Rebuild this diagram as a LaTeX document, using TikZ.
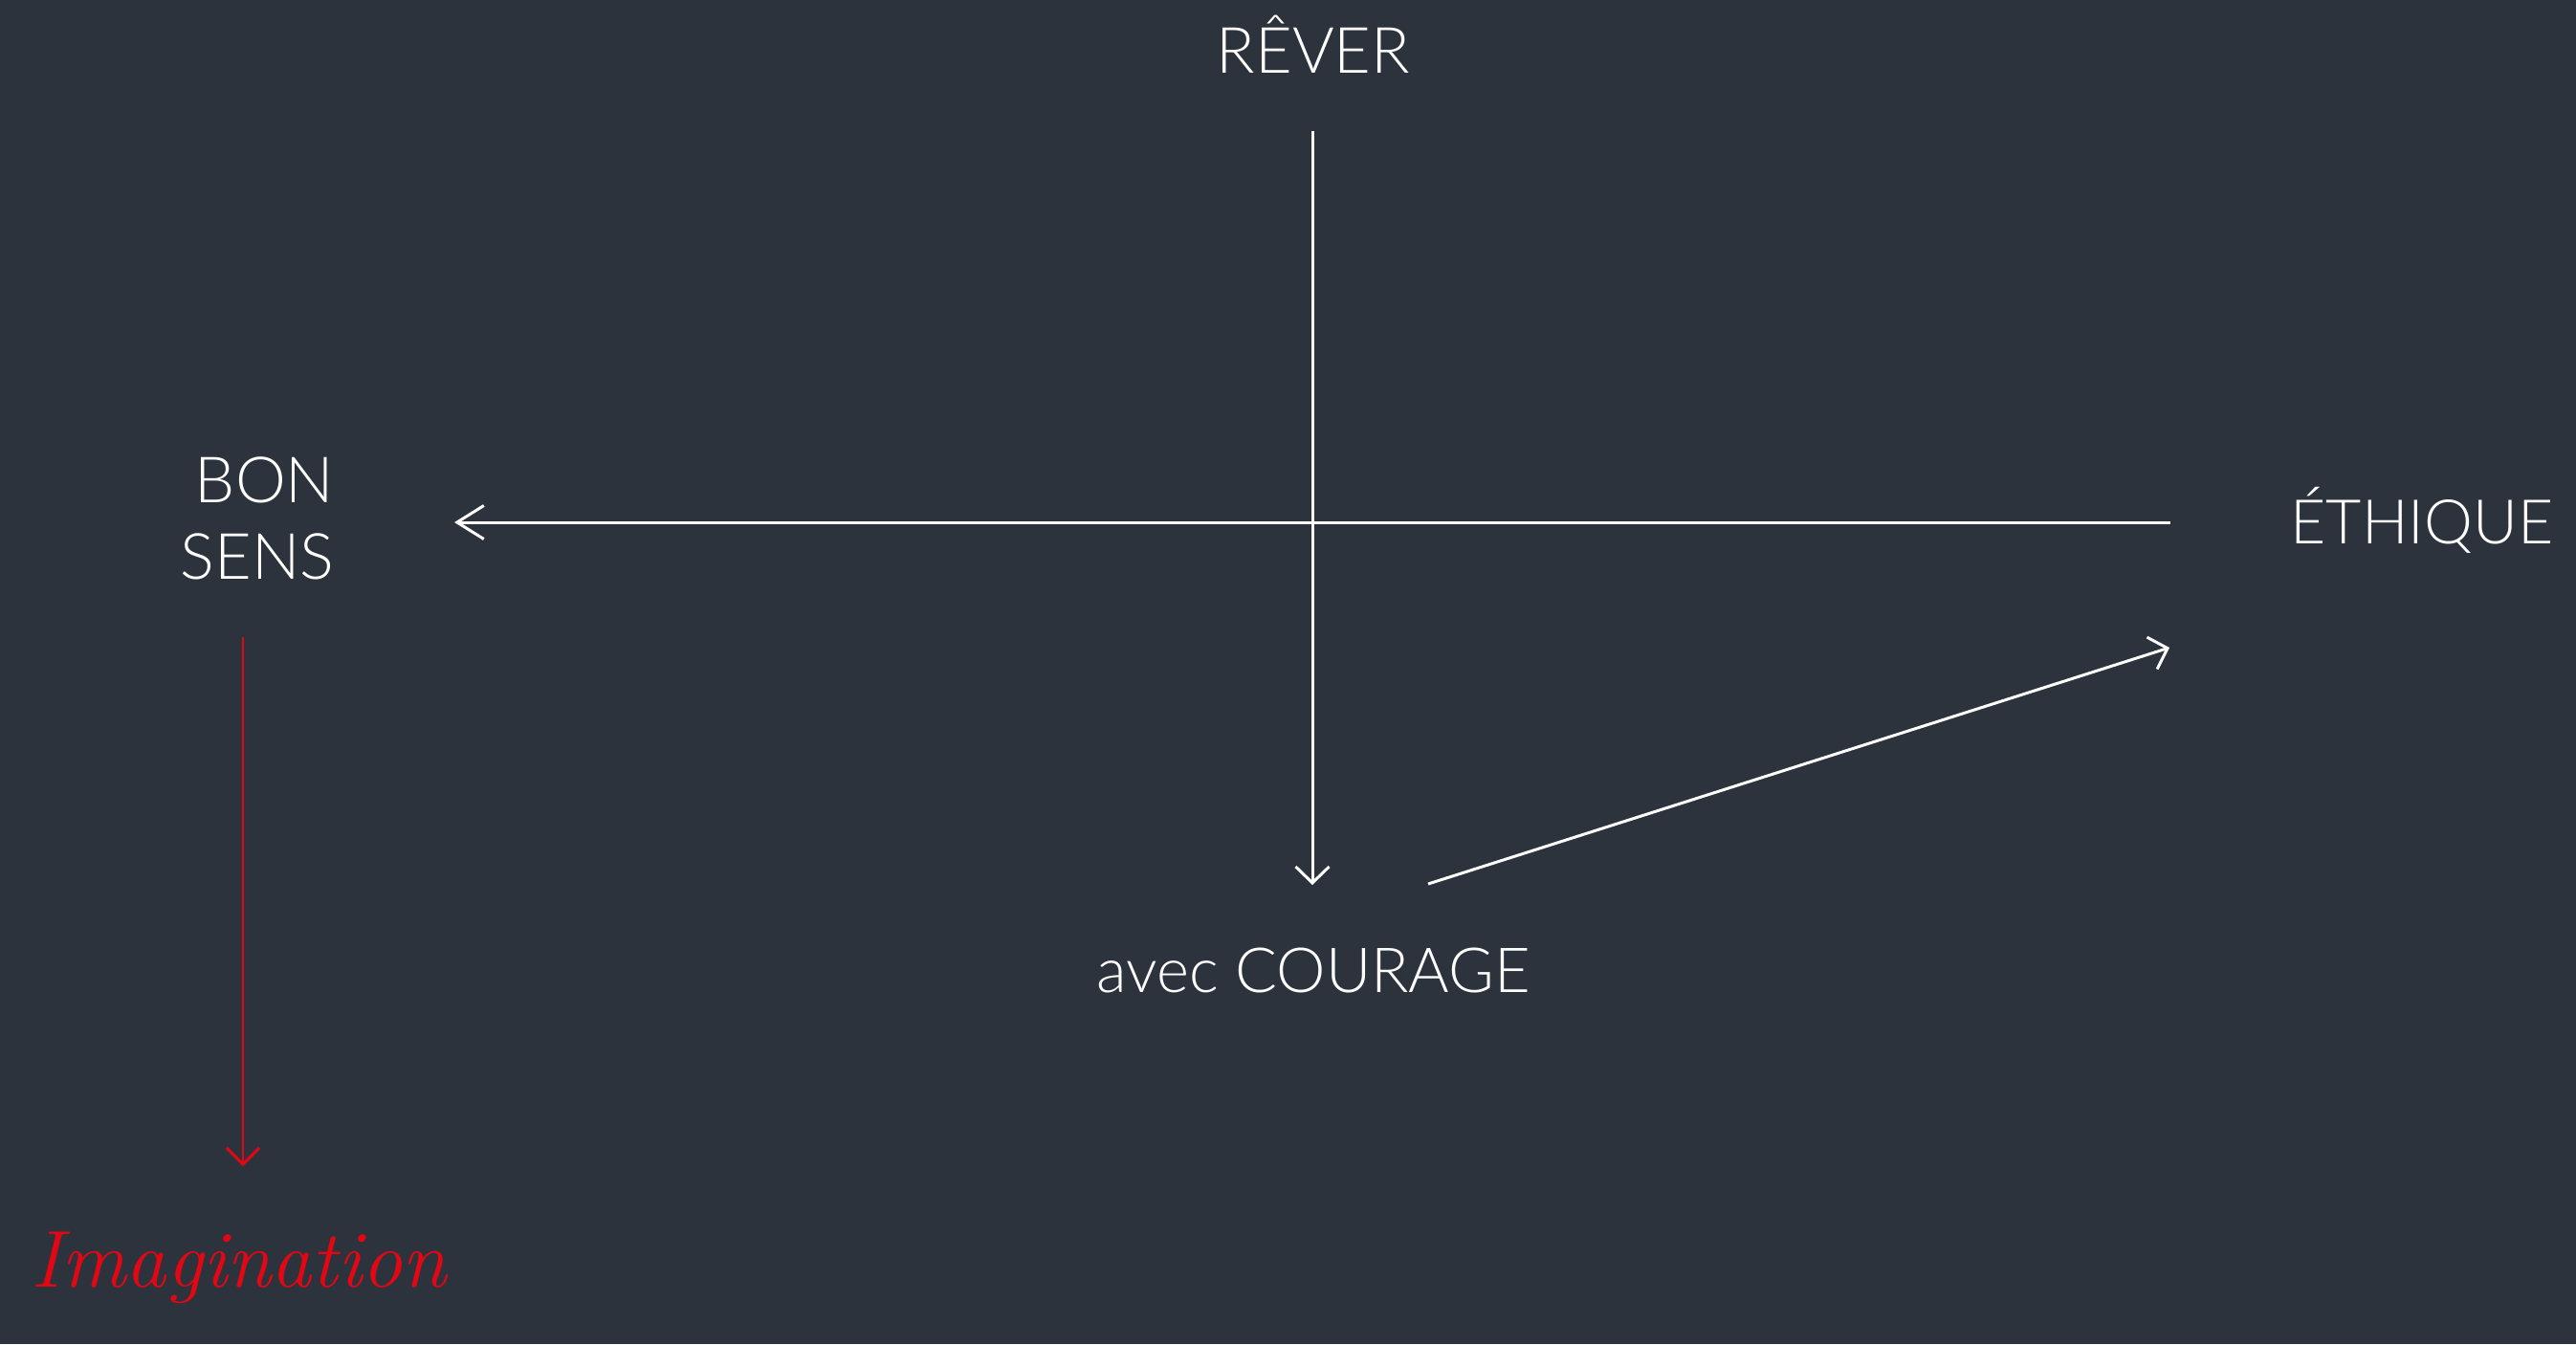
\documentclass[tikz,border=0pt]{standalone}
\usepackage{fontspec}
\newfontfamily\lightfont{Lato Light}
\usetikzlibrary{arrows.meta, positioning, calc}
\definecolor{fond}{HTML}{2D333D}
\definecolor{rouge}{HTML}{E30613}
\tikzset{
  lbl/.style={text=white, font=\lightfont\fontsize{19}{23}\selectfont, inner sep=0pt},
  axe/.style={draw=white, line width=0.85pt, -{Straight Barb[length=1.7mm, width=3.5mm]}},
  axelong/.style={axe, -{Straight Barb[length=2.8mm, width=3.5mm]}},
  axerouge/.style={draw=rouge, line width=0.85pt, -{Straight Barb[length=1.7mm, width=3.4mm]}},
}

\begin{document}
\begin{tikzpicture}
    \fill[fond] (0,0) rectangle (26.93,-14.05);
    \useasboundingbox (0,0) rectangle (26.93,-14.05);
    \node[lbl, anchor=base] (rever) at (13.73,-0.76) {RÊVER};
    \node[lbl, anchor=base, font=\lightfont\fontsize{18.3}{22}\selectfont]
      (ethique) at (25.32,-5.68) {ÉTHIQUE};
    \node[lbl, anchor=base, font=\lightfont\fontsize{18.5}{22}\selectfont]
      (courage) at (13.73,-10.37) {avec COURAGE};
    \node[lbl, align=right, anchor=east, font=\lightfont\fontsize{19}{22.8}\selectfont]
      (bonsens) at (3.50,-5.415) {BON\\SENS};
    \node[text=rouge, font=\itshape\fontsize{24}{29}\selectfont, inner sep=0pt, anchor=base]
      (imagination) at (2.50,-13.45) {Imagination};
    % ends of the lines
    \coordinate (haut) at (13.72,-1.37);
    \coordinate (bas) at (13.72,-9.25);
    \coordinate (droite) at (22.69,-5.46);
    \coordinate (gauche) at (4.75,-5.46);
    \coordinate (depart) at (14.93,-9.24);
    \coordinate (fleche) at (22.68,-6.77);
    \coordinate (rtop) at (2.54,-6.66);
    \coordinate (rbas) at (2.54,-12.19);
    \draw[axe] (haut) -- (bas);
    \draw[axelong] (droite) -- (gauche);
    \draw[axe] (depart) -- (fleche);
    \draw[axerouge] (rtop) -- (rbas);
  \end{tikzpicture}
\end{document}
